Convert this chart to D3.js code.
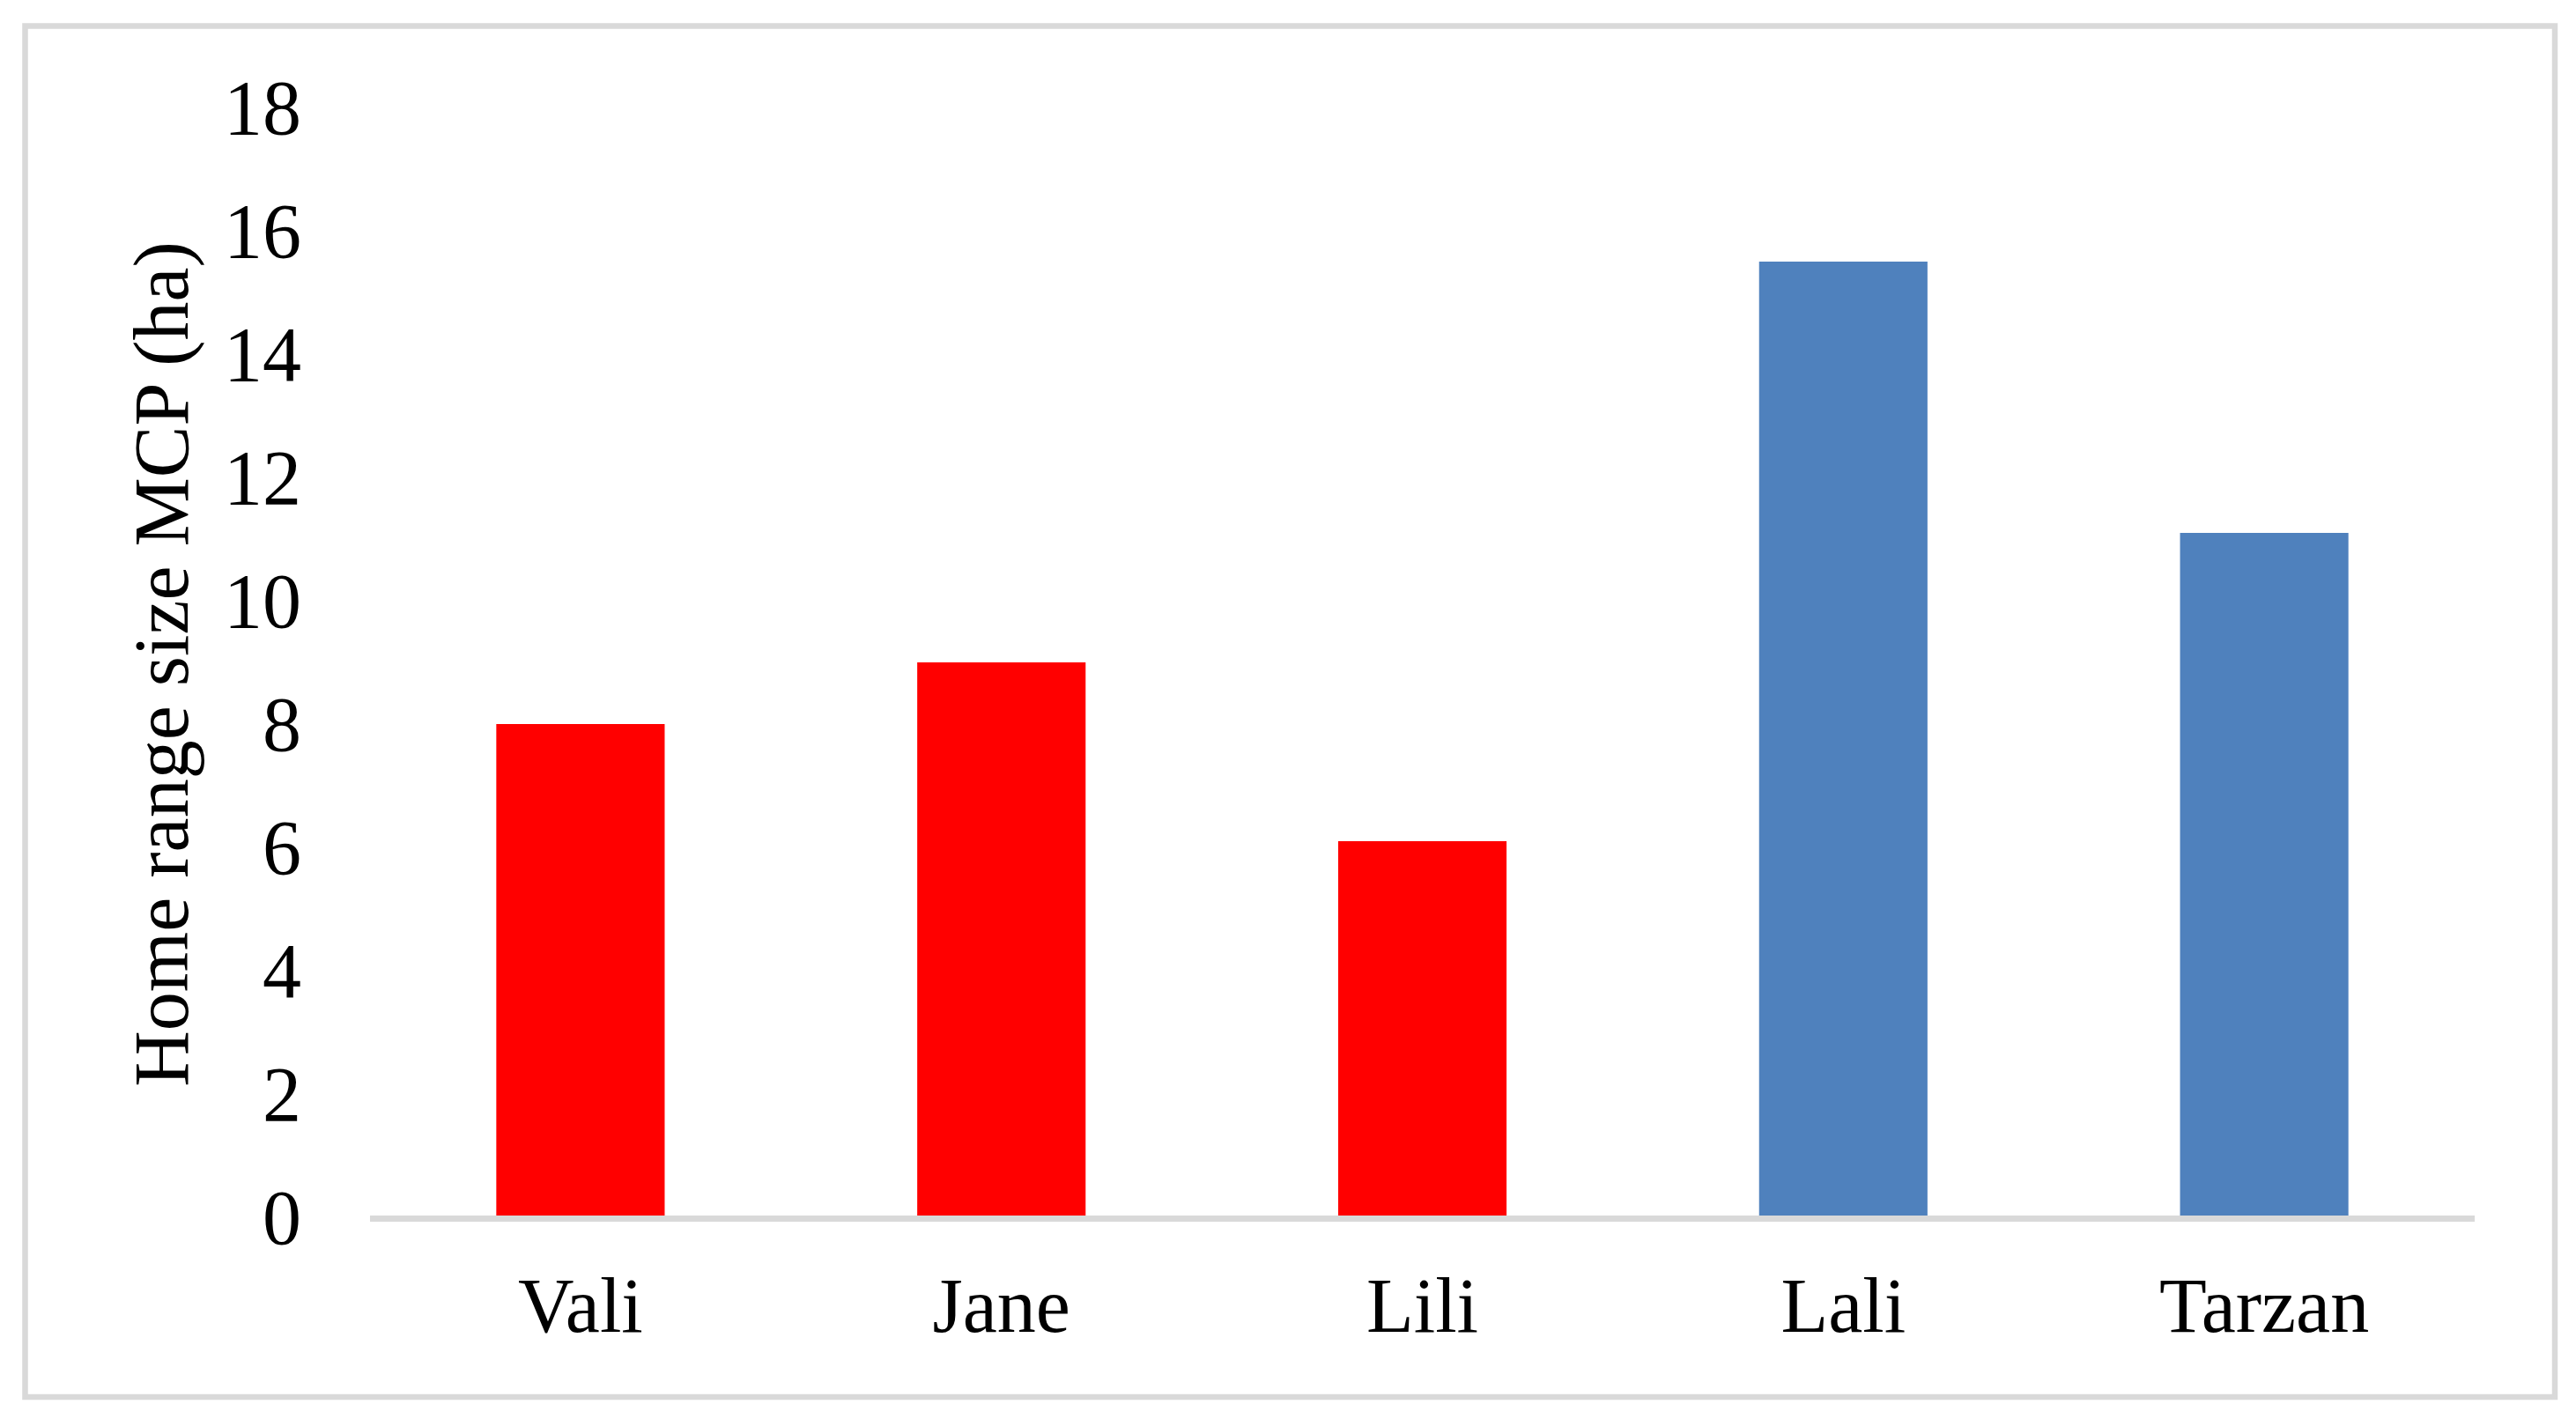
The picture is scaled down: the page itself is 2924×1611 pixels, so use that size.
<!DOCTYPE html>
<html>
<head>
<meta charset="utf-8">
<script src="https://cdn.jsdelivr.net/npm/d3@7"></script>
<style>
  html, body { margin: 0; padding: 0; background: #ffffff; }
  svg { display: block; }
</style>
</head>
<body>
<div id="chart"></div>
<script>
const categories = ["Vali", "Jane", "Lili", "Lali", "Tarzan"];
const values = [8.0, 9.0, 6.1, 15.5, 11.1];
const barColors = ["#ff0000", "#ff0000", "#ff0000", "#4f81bd", "#4f81bd"];
const yTicks = [0, 2, 4, 6, 8, 10, 12, 14, 16, 18];
const yLabel = "Home range size MCP (ha)";

const W = 2924, H = 1611;
const svg = d3.select("#chart").append("svg")
  .attr("width", W).attr("height", H);

svg.append("rect").attr("width", W).attr("height", H).attr("fill", "#ffffff");

// chart border
svg.append("rect")
  .attr("x", 28.5).attr("y", 29.5)
  .attr("width", 2871.5).attr("height", 1556.5)
  .attr("fill", "none")
  .attr("stroke", "#d9d9d9")
  .attr("stroke-width", 6.5);

const plotLeft = 420, plotRight = 2809;
const x = d3.scaleBand().domain(categories)
  .range([plotLeft, plotRight])
  .paddingInner(0.6).paddingOuter(0.3);
const y = d3.scaleLinear().domain([0, 18]).range([1382, 122]);

const font = "'Liberation Serif', 'Times New Roman', serif";

// bars
svg.append("g").selectAll("rect")
  .data(categories)
  .join("rect")
  .attr("x", d => x(d))
  .attr("width", x.bandwidth())
  .attr("y", (d, i) => y(values[i]))
  .attr("height", (d, i) => y(0) - y(values[i]))
  .attr("fill", (d, i) => barColors[i]);

// y axis (labels only)
const yAxis = d3.axisLeft(y).tickValues(yTicks).tickSize(0).tickPadding(0)
  .tickFormat(d3.format("d"));
const gy = svg.append("g").attr("transform", "translate(342,0)").call(yAxis);
gy.select(".domain").remove();
gy.selectAll("text")
  .attr("font-family", font).attr("font-size", 88).attr("fill", "#000")
  .attr("dy", "0.34em");

// x axis line
svg.append("line")
  .attr("x1", plotLeft).attr("x2", plotRight)
  .attr("y1", 1383.5).attr("y2", 1383.5)
  .attr("stroke", "#d9d9d9").attr("stroke-width", 7);

// x axis labels
const xAxis = d3.axisBottom(x).tickSize(0).tickPadding(0);
const gx = svg.append("g").attr("transform", "translate(0,1512)").call(xAxis);
gx.select(".domain").remove();
gx.selectAll("text")
  .attr("font-family", font).attr("font-size", 88).attr("fill", "#000")
  .attr("dy", 0).attr("y", 0);

// y axis title
svg.append("text")
  .attr("transform", "translate(213,754) rotate(-90)")
  .attr("text-anchor", "middle")
  .attr("font-family", font).attr("font-size", 88).attr("fill", "#000")
  .text(yLabel);
</script>
</body>
</html>
